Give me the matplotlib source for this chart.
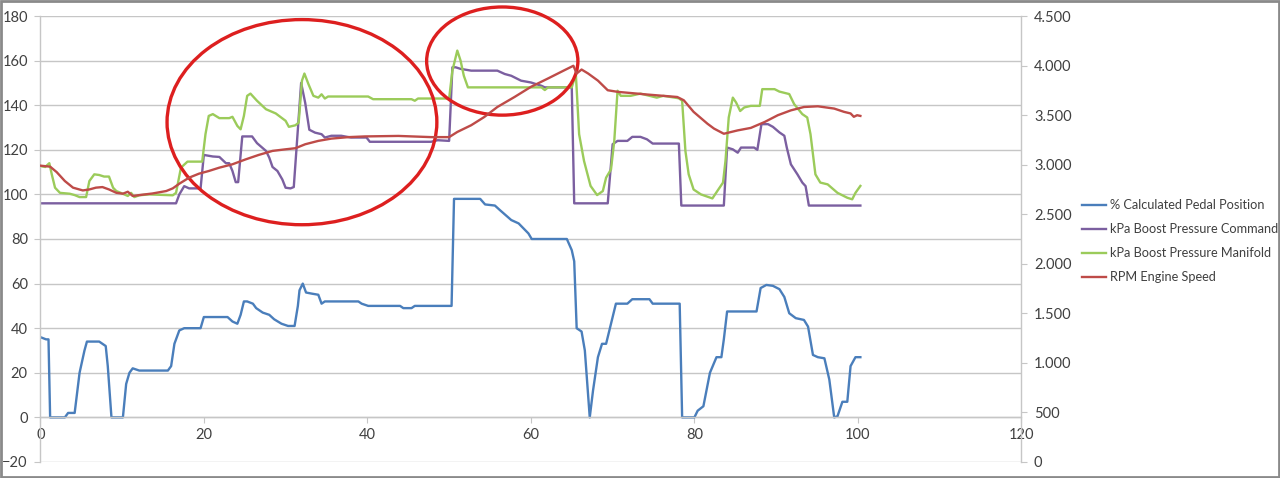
import numpy as np
import matplotlib.pyplot as plt
from matplotlib.patches import Ellipse, Rectangle
from matplotlib.ticker import FuncFormatter

plt.rcParams['font.family'] = ['Lato', 'DejaVu Sans']

# % Calculated Pedal Position
pedal_x = [0, 0.7, 1.0, 1.2, 3.0, 3.4, 4.2, 4.8, 5.4, 5.7, 7.2, 7.6, 8.0, 8.25, 8.7, 10.1, 10.5, 10.9,
           11.3, 12.1, 15.6, 16.0, 16.4, 17.0, 17.6, 19.6, 20.0, 22.9, 23.5, 24.1, 24.5, 24.9, 25.3, 26.0,
           26.4, 27.2, 28.0, 28.6, 29.5, 30.3, 31.1, 31.5, 31.7, 32.1, 32.5, 33.2, 34.0, 34.4, 34.8, 38.9,
           39.3, 40.1, 44.0, 44.4, 45.4, 45.8, 50.3, 50.6, 53.8, 54.4, 55.6, 56.2, 57.6, 58.5, 59.7, 60.1,
           64.4, 65.0, 65.3, 65.6, 66.2, 66.6, 67.2, 67.6, 68.2, 68.7, 69.2, 69.8, 70.4, 71.8, 72.4, 74.5,
           74.9, 78.2, 78.5, 80.0, 80.4, 81.1, 81.9, 82.7, 83.3, 83.6, 84.0, 87.6, 88.1, 88.8, 89.6, 90.4,
           91.0, 91.6, 92.4, 93.4, 93.9, 94.5, 95.1, 95.9, 96.5, 97.1, 97.5, 98.1, 98.7, 99.1, 99.7, 100.3]
pedal_y = [36, 35, 35, 0, 0, 2, 2, 20, 30, 34, 34, 33, 32, 23, 0, 0, 15, 20,
           22, 21, 21, 23, 33, 39, 40, 40, 45, 45, 43, 42, 46, 52, 52, 51,
           49, 47, 46, 44, 42, 41, 41, 50, 57, 60, 56, 55.5, 55, 51, 52, 52,
           51, 50, 50, 49, 49, 50, 50, 98, 98, 95.5, 95, 93, 88.5, 87, 82.5, 80,
           80, 75, 70, 40, 38.5, 30, 0, 12, 27, 33, 33, 42, 51, 51, 53, 53,
           51, 51, 0, 0, 3, 5, 20, 27, 27, 35, 47.5, 47.5, 58, 59.4, 59, 57.5,
           54, 46.7, 44.5, 43.7, 40.7, 28, 27, 26.5, 17, 0, 0.5, 7, 7, 23, 27, 27]

# kPa Boost Pressure Command
cmd_x = [0, 16.6, 17.0, 17.6, 18.2, 19.6, 20.0, 21.1, 21.9, 22.7, 23.1, 23.5, 23.9, 24.2, 24.7, 25.9,
         26.5, 27.6, 28.0, 28.4, 29.0, 29.6, 30.0, 30.6, 31.0, 31.4, 31.9, 32.4, 32.9, 33.6, 34.4, 34.8,
         35.6, 36.8, 38.0, 39.9, 40.3, 47.8, 48.6, 50.0, 50.4, 50.8, 51.4, 52.7, 55.9, 56.8, 57.6, 58.8,
         60.0, 61.3, 61.7, 65.0, 65.3, 69.4, 70.0, 70.6, 71.8, 72.4, 73.4, 74.2, 74.9, 78.1, 78.4, 83.6,
         84.0, 84.7, 85.3, 85.7, 87.3, 87.7, 88.2, 89.0, 89.6, 90.4, 91.0, 91.3, 91.8, 92.6, 93.2, 93.6,
         94.0, 100.3]
cmd_y = [96, 96, 100, 103.7, 102.7, 102.7, 117.7, 117, 116.8, 114, 114, 110.5, 105.5, 105.5, 126, 126,
         123, 119.5, 116.5, 112.3, 110.5, 106.7, 103, 102.7, 103.3, 124, 150, 141, 129, 127.7, 127, 125.5,
         126.3, 126.3, 125.5, 125.5, 123.6, 123.6, 124.3, 124, 157, 157, 156.3, 155.5, 155.5, 154, 153.2, 151,
         150.2, 148.7, 148, 148, 96, 96, 122.5, 124, 124, 125.8, 125.8, 124.7, 122.8, 122.8, 95, 95,
         121, 120.2, 118.7, 121, 121, 120, 131.5, 131.5, 130.3, 127.8, 126.3, 121, 113.5, 109, 105.3, 103.7,
         95, 95]

# kPa Boost Pressure Manifold
man_x = [0, 0.6, 1.1, 1.4, 1.8, 2.4, 3.6, 4.2, 4.8, 5.6, 6.0, 6.6, 7.2, 7.8, 8.4, 8.9, 9.3, 10.1, 10.7,
         11.1, 11.5, 12.1, 13.3, 16.2, 16.6, 17.2, 18.0, 19.8, 20.2, 20.6, 21.1, 21.9, 23.1, 23.5, 24.1,
         24.5, 24.9, 25.3, 25.7, 26.5, 27.6, 28.8, 30.0, 30.4, 31.2, 31.6, 32.0, 32.3, 32.8, 33.4, 34.0,
         34.4, 34.8, 35.2, 40.1, 40.7, 45.4, 45.8, 46.2, 50.0, 50.4, 51.0, 51.4, 51.8, 52.3, 61.3, 61.7,
         62.1, 65.0, 65.5, 65.9, 66.5, 67.3, 68.1, 68.8, 69.2, 69.8, 70.2, 70.6, 71.0, 72.2, 73.4, 75.4,
         76.2, 78.1, 78.5, 78.9, 79.3, 79.9, 80.8, 82.2, 82.8, 83.5, 83.8, 84.2, 84.7, 85.1, 85.6, 86.1,
         86.9, 88.0, 88.3, 89.8, 90.4, 91.6, 92.2, 93.2, 93.8, 94.2, 94.8, 95.4, 96.3, 97.5, 98.7, 99.3,
         99.7, 100.3]
man_y = [112.7, 112.3, 114, 109, 103, 100.7, 100.3, 99.7, 98.8, 98.8, 106, 109, 108.7, 108, 108, 103, 101.5, 100.3, 99.3,
         100.7, 98.8, 99.6, 100, 99.6, 100.7, 112, 114.7, 114.7, 127, 135.2, 136, 134.2, 134.2, 134.8, 130.7,
         129.2, 135.2, 144.2, 145.2, 142, 138.2, 136.3, 133, 130.3, 131, 132.2, 151, 154.2, 149.4, 144.2, 143.4,
         144.9, 143, 143.9, 143.9, 142.7, 142.7, 142, 143, 143, 155.5, 164.5, 160, 153.2, 148, 148, 146.8,
         148, 148, 154, 127, 115, 103.8, 99.7, 101.5, 107.5, 111.2, 124, 146.5, 144.2, 144.2, 145.2, 143.4,
         144.2, 143.1, 142, 119.5, 109, 102.2, 100, 98.2, 101.5, 105.3, 115, 134.5, 143.4, 141.2, 137.4, 139,
         139.7, 139.7, 147.2, 147.2, 146.1, 145, 140.5, 136, 134.5, 127, 109, 105.3, 104.5, 100.7, 98.5, 97.8,
         100.7, 103.8]

# RPM Engine Speed (right axis)
rpm_x = [0, 1.2, 2.0, 3.0, 4.0, 5.2, 6.0, 6.8, 7.6, 8.4, 9.3, 10.1, 10.7, 11.3, 12.1, 13.7, 15.4, 16.2,
         17.0, 18.2, 19.4, 20.6, 21.9, 23.5, 25.1, 26.7, 28.4, 30.0, 31.2, 32.4, 34.0, 35.6, 37.7, 39.7,
         43.8, 47.8, 50.0, 51.0, 52.7, 54.3, 55.9, 58.0, 60.0, 62.1, 64.1, 65.2, 65.6, 66.2, 67.0, 68.2,
         69.4, 70.6, 74.2, 77.9, 78.7, 79.9, 81.6, 82.4, 83.6, 85.3, 86.9, 88.6, 90.2, 91.8, 93.4, 95.1,
         97.1, 98.3, 99.1, 99.5, 99.9, 100.3]
rpm_y = [2990, 2980, 2925, 2835, 2768, 2740, 2750, 2768, 2774, 2750, 2716, 2707, 2727, 2684, 2693, 2709, 2734, 2761,
         2808, 2869, 2909, 2936, 2970, 3004, 3053, 3098, 3139, 3155, 3166, 3206, 3240, 3263, 3278, 3285,
         3290, 3278, 3278, 3330, 3398, 3481, 3582, 3683, 3785, 3870, 3953, 3998, 3920, 3960, 3920, 3848,
         3751, 3735, 3708, 3683, 3650, 3533, 3413, 3364, 3312, 3346, 3371, 3431, 3499, 3548, 3582, 3589,
         3566, 3533, 3517, 3483, 3499, 3492]

labels = ['% Calculated Pedal Position', 'kPa Boost Pressure Command',
          'kPa Boost Pressure Manifold', 'RPM Engine Speed']
colors = ['#4a7ebb', '#7b5fa0', '#9bcb5a', '#be4b48']
txt = '#404040'
grid = '#c6c6c6'

fig = plt.figure(figsize=(12.8, 4.78), dpi=100)
ax = fig.add_axes([0.0315, 0.0335, 0.7665, 0.933])
ax2 = ax.twinx()

l1, = ax.plot(pedal_x, pedal_y, color=colors[0], lw=1.7)
l2, = ax.plot(cmd_x, cmd_y, color=colors[1], lw=1.7)
l3, = ax.plot(man_x, man_y, color=colors[2], lw=1.7)
l4, = ax2.plot(rpm_x, rpm_y, color=colors[3], lw=1.7)

ax.set_xlim(0, 120)
ax.set_ylim(-20, 180)
ax2.set_ylim(0, 4500)
ax.set_xticks(np.arange(0, 121, 20))
ax.set_yticks(np.arange(-20, 181, 20))
ax2.set_yticks(np.arange(0, 4501, 500))
ax2.yaxis.set_major_formatter(FuncFormatter(lambda v, p: f'{int(v):,}'.replace(',', '.')))

ax.yaxis.grid(True, color=grid, lw=1)
ax.set_axisbelow(True)
ax.spines['top'].set_visible(False)
ax.spines['right'].set_visible(False)
ax.spines['bottom'].set_position(('data', 0))
for s in ['top', 'left', 'bottom']:
    ax2.spines[s].set_visible(False)
for s in [ax.spines['left'], ax.spines['bottom'], ax2.spines['right']]:
    s.set_color(grid)
    s.set_linewidth(1)

ax.tick_params(axis='both', colors=grid, labelcolor=txt, labelsize=10.5, length=4)
ax.tick_params(axis='y', pad=5)
ax2.tick_params(axis='y', colors=grid, labelcolor=txt, labelsize=10.5, length=4, pad=5)

# red highlight ellipses
for cx, cy, w, h in [(32.0, 132.4, 33.0, 92.0), (56.5, 159.8, 18.5, 48.5)]:
    ax.add_patch(Ellipse((cx, cy), w, h, fill=False, ec='#dd1f1f', lw=2.4, clip_on=False, zorder=5))

fig.legend([l1, l2, l3, l4], labels, loc='upper left', bbox_to_anchor=(0.84, 0.597),
           frameon=False, fontsize=9.2, handlelength=1.9, handletextpad=0.3, labelspacing=0.95,
           borderpad=0, labelcolor=txt)

fig.add_artist(Rectangle((0.001, 0.002), 0.998, 0.996, transform=fig.transFigure,
                         fill=False, ec='#8a8a8a', lw=2))

fig.savefig('out.png', dpi=100)
